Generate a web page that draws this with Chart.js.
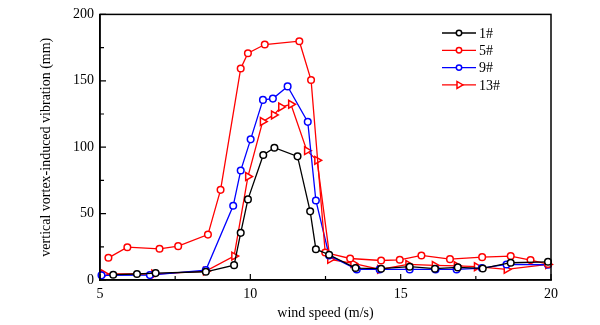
<!DOCTYPE html>
<html>
<head>
<meta charset="utf-8">
<script src="https://cdn.jsdelivr.net/npm/chart.js@4"></script>
<style>
  html, body { margin: 0; padding: 0; background: #fff; }
  #wrap { width: 600px; height: 325px; }
</style>
</head>
<body>
<div id="wrap"><canvas id="vivChart"></canvas></div>
<script>
// wind speed (m/s) and vibration (mm) for each measuring point
const speed1 = [5.44, 6.23, 6.85, 8.52, 9.46, 9.68, 9.92, 10.43, 10.8, 11.57, 11.99, 12.18, 12.62, 13.5, 14.35, 15.3, 16.14, 16.9, 17.73, 18.66, 19.9];
const vib1   = [4, 4.5, 5.2, 6.2, 11.2, 35.5, 60.7, 94.1, 99.6, 93.1, 51.7, 23.2, 19, 9, 8.5, 10, 8.5, 9.5, 8.7, 13, 13.7];

const speed5 = [5.28, 5.91, 6.98, 7.6, 8.59, 9.01, 9.68, 9.92, 10.48, 11.63, 12.02, 12.49, 13.32, 14.35, 14.97, 15.69, 16.64, 17.71, 18.66, 19.32, 19.9];
const vib5   = [16.7, 24.7, 23.5, 25.5, 34.2, 67.9, 159.3, 170.8, 177.3, 179.8, 150.6, 20.7, 16.2, 14.7, 15.2, 18.5, 15.7, 17.2, 18, 15, 12];

const speed9 = [5.05, 6.66, 8.52, 9.43, 9.68, 10.01, 10.42, 10.75, 11.24, 11.91, 12.18, 12.62, 13.54, 14.3, 15.3, 16.16, 16.86, 17.7, 18.52, 19.9];
const vib9   = [3.5, 3.7, 7.5, 55.9, 82.4, 105.9, 135.6, 136.6, 145.8, 119.1, 59.9, 18.5, 8, 8, 8, 8, 8, 9, 11.7, 11.5];

const speed13 = [5.13, 6.8, 8.52, 9.46, 9.92, 10.41, 10.78, 11.02, 11.35, 11.88, 12.22, 12.65, 13.42, 14.31, 15.25, 16.13, 16.86, 17.53, 18.52, 19.9];
const vib13   = [4.5, 4.5, 6.7, 18, 77.9, 119.3, 124.3, 130.3, 132.3, 97.4, 90.1, 15.5, 12.5, 8, 11.7, 11, 10.7, 10, 8, 11.7];

const seriesNames = ['1#', '5#', '9#', '13#'];

const FONT = '"Liberation Serif", "Times New Roman", serif';

function toPoints(xs, ys) {
    return xs.map((x, i) => ({ x: x, y: ys[i] }));
}

function makeSet(label, xs, ys, color, style) {
    return {
        label: label,
        data: toPoints(xs, ys),
        showLine: true,
        borderColor: color,
        backgroundColor: '#fff',
        borderWidth: 1.3,
        pointStyle: style,
        pointRotation: style === 'triangle' ? 90 : 0,
        pointRadius: style === 'triangle' ? 4.5 : 3.3,
        pointBorderWidth: 1.5,
        pointBackgroundColor: '#fff',
        clip: false
    };
}

// inward ticks + closed frame, like the original plot
const frameTicks = {
    id: 'frameTicks',
    afterDatasetsDraw(chart) {
        const ctx = chart.ctx;
        const a = chart.chartArea;
        const xs = chart.scales.x, ys = chart.scales.y;
        ctx.save();
        ctx.strokeStyle = '#000';
        ctx.lineWidth = 1.5;
        ctx.strokeRect(a.left, a.top, a.right - a.left, a.bottom - a.top);
        ctx.lineWidth = 1.2;
        ctx.beginPath();
        xs.ticks.forEach(t => {
            const px = xs.getPixelForValue(t.value);
            const len = (Math.abs(t.value % 5) < 1e-6) ? 6 : 4;
            ctx.moveTo(px, a.bottom);
            ctx.lineTo(px, a.bottom - len);
        });
        ys.ticks.forEach(t => {
            const py = ys.getPixelForValue(t.value);
            const len = (t.value % 50 === 0) ? 6 : 4;
            ctx.moveTo(a.left, py);
            ctx.lineTo(a.left + len, py);
        });
        ctx.stroke();
        ctx.restore();
    }
};

// legend inside the plot: short line with marker, then label
const innerLegend = {
    id: 'innerLegend',
    afterDraw(chart) {
        const ctx = chart.ctx;
        ctx.save();
        ctx.font = '14px ' + FONT;
        ctx.textBaseline = 'middle';
        chart.data.datasets.forEach((ds, i) => {
            const y = 33 + i * 17.3;
            ctx.strokeStyle = ds.borderColor;
            ctx.lineWidth = ds.borderWidth;
            ctx.beginPath();
            ctx.moveTo(442, y);
            ctx.lineTo(476, y);
            ctx.stroke();
            ctx.lineWidth = 1.5;
            ctx.fillStyle = '#fff';
            Chart.helpers.drawPoint(ctx, {
                pointStyle: ds.pointStyle,
                rotation: ds.pointRotation,
                radius: ds.pointStyle === 'triangle' ? 4 : 2.7,
                borderWidth: 1.5
            }, 459, y);
            ctx.fillStyle = '#000';
            ctx.fillText(ds.label, 479, y + 1);
        });
        ctx.restore();
    }
};

const config = {
    type: 'scatter',
    data: {
        datasets: [
            makeSet(seriesNames[0], speed1, vib1, '#000000', 'circle'),
            makeSet(seriesNames[1], speed5, vib5, '#ff0000', 'circle'),
            makeSet(seriesNames[2], speed9, vib9, '#0000ff', 'circle'),
            makeSet(seriesNames[3], speed13, vib13, '#ff0000', 'triangle')
        ]
    },
    options: {
        responsive: true,
        maintainAspectRatio: false,
        animation: false,
        layout: { padding: { top: 13, right: 49, left: 0, bottom: 0 } },
        plugins: {
            legend: { display: false },
            tooltip: { enabled: false }
        },
        scales: {
            x: {
                type: 'linear',
                min: 5,
                max: 20,
                afterFit: s => { s.height = 45; },
                grid: { display: false, drawTicks: false },
                border: { display: true, color: '#000', width: 1.5 },
                ticks: {
                    stepSize: 2.5,
                    autoSkip: false,
                    maxRotation: 0,
                    padding: 6,
                    color: '#000',
                    font: { family: FONT, size: 14 },
                    callback: v => (v % 5 === 0 ? v : '')
                },
                title: {
                    display: true,
                    text: 'wind speed (m/s)',
                    color: '#000',
                    font: { family: FONT, size: 14 },
                    padding: { top: 0, bottom: 3 }
                }
            },
            y: {
                min: 0,
                max: 200,
                afterFit: s => { s.width = 100; },
                grid: { display: false, drawTicks: false },
                border: { display: true, color: '#000', width: 1.5 },
                ticks: {
                    stepSize: 25,
                    autoSkip: false,
                    padding: 6,
                    color: '#000',
                    font: { family: FONT, size: 14 },
                    callback: v => (v % 50 === 0 ? v : '')
                },
                title: {
                    display: true,
                    text: 'vertical vortex-induced vibration (mm)',
                    color: '#000',
                    font: { family: FONT, size: 14 },
                    padding: { top: 38, bottom: 0 }
                }
            }
        }
    },
    plugins: [frameTicks, innerLegend]
};

const vivChart = new Chart(document.getElementById('vivChart'), config);
</script>
</body>
</html>
